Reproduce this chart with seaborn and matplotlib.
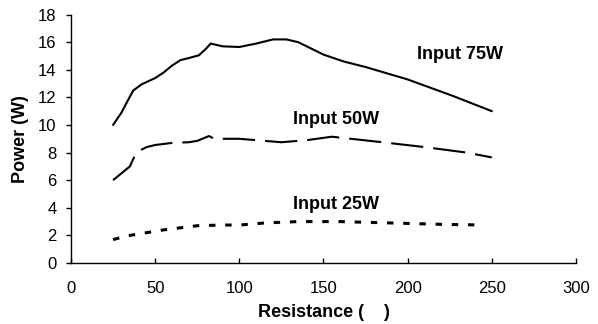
import matplotlib
matplotlib.use("Agg")
import matplotlib.pyplot as plt
import seaborn as sns
import pandas as pd

# Data
r75 = [25, 30, 33, 37, 42, 50, 55, 60, 65, 70, 76, 80, 83, 90, 100, 110, 120, 128, 135, 140, 150, 162, 175, 200, 227, 250]
p75 = [10.0, 10.9, 11.6, 12.5, 12.95, 13.4, 13.8, 14.3, 14.7, 14.85, 15.05, 15.5, 15.9, 15.7, 15.65, 15.9, 16.2, 16.2, 16.0, 15.7, 15.1, 14.6, 14.2, 13.3, 12.1, 11.0]

r50 = [25, 30, 35, 38, 40, 45, 50, 60, 70, 75, 80, 82, 85, 100, 110, 125, 140, 155, 170, 185, 210, 235, 250]
p50 = [6.0, 6.5, 7.0, 7.8, 8.1, 8.4, 8.55, 8.7, 8.75, 8.85, 9.1, 9.2, 9.0, 9.0, 8.9, 8.75, 8.9, 9.15, 8.95, 8.75, 8.4, 8.0, 7.65]

r25 = [25, 35, 45, 55, 65, 75, 90, 100, 115, 135, 160, 190, 220, 245]
p25 = [1.7, 2.0, 2.2, 2.4, 2.55, 2.7, 2.75, 2.75, 2.9, 3.0, 3.0, 2.9, 2.8, 2.75]

series_names = ["Input 75W", "Input 50W", "Input 25W"]
label_x = [231, 157.5, 157.5]
label_y = [15.1, 10.4, 4.25]

xticks = [0, 50, 100, 150, 200, 250, 300]
yticks = [0, 2, 4, 6, 8, 10, 12, 14, 16, 18]

df = pd.concat([
    pd.DataFrame({"R": r75, "P": p75, "S": series_names[0]}),
    pd.DataFrame({"R": r50, "P": p50, "S": series_names[1]}),
    pd.DataFrame({"R": r25, "P": p25, "S": series_names[2]}),
], ignore_index=True)

sns.set_style("ticks")
plt.rcParams["font.family"] = ["Liberation Sans", "DejaVu Sans"]
plt.rcParams["text.color"] = "black"
plt.rcParams["axes.labelcolor"] = "black"
plt.rcParams["xtick.color"] = "black"
plt.rcParams["ytick.color"] = "black"

fig = plt.figure(figsize=(5.98, 3.24), dpi=100)
ax = fig.add_axes([0.1187, 0.1883, 0.8445, 0.7667])

sns.lineplot(data=df, x="R", y="P", style="S", hue="S",
             palette={n: "black" for n in series_names},
             dashes={series_names[0]: "", series_names[1]: (15.5, 4.8), series_names[2]: (2.1, 3.2)},
             sort=False, legend=False, ax=ax, estimator=None)

for line, lw in zip(ax.lines, [1.5, 1.5, 2.2]):
    line.set_linewidth(lw)

for name, lx, ly in zip(series_names, label_x, label_y):
    ax.text(lx, ly, name, ha="center", va="center", fontsize=13, fontweight="bold", color="black")

ax.set_xlim(0, 300)
ax.set_ylim(0, 18)
ax.set_xticks(xticks)
ax.set_yticks(yticks)
ax.tick_params(axis="x", direction="in", length=3.5, width=1, labelsize=12, pad=13)
ax.tick_params(axis="y", direction="out", length=3.5, width=1, labelsize=12, pad=7)
ax.set_xlabel("Resistance (    )", fontsize=13, fontweight="bold", labelpad=5.5)
ax.set_ylabel("Power (W)", fontsize=13, fontweight="bold", labelpad=6.5)
for s in ["top", "right"]:
    ax.spines[s].set_visible(False)
for s in ["left", "bottom"]:
    ax.spines[s].set_color("black")
    ax.spines[s].set_linewidth(1)

fig.savefig("out.png", dpi=100)
